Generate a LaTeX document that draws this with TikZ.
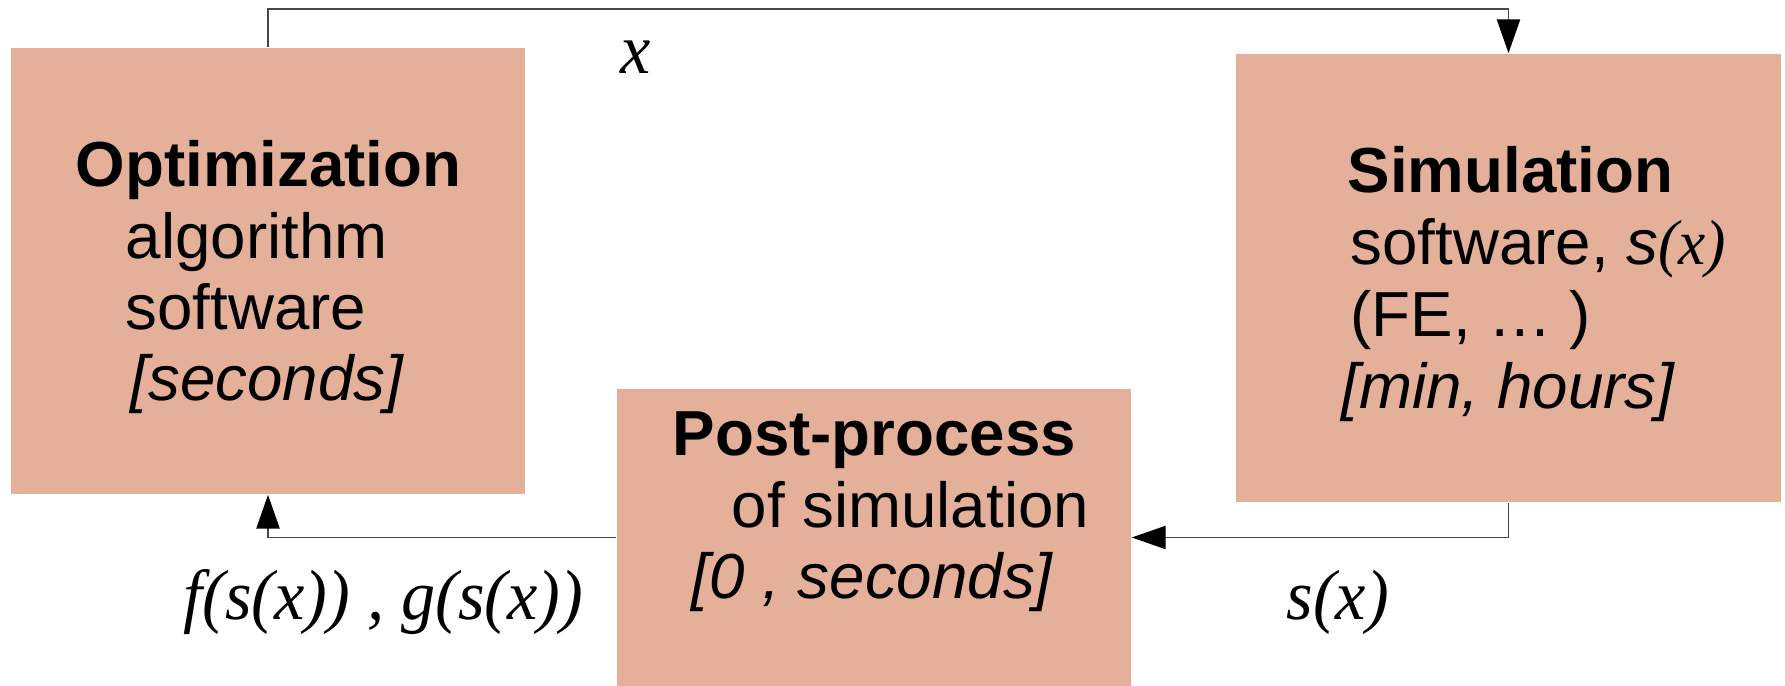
\documentclass[tikz,border=0pt]{standalone}
\usepackage{fontspec}
\setmainfont{Liberation Sans}
\newfontfamily\tms{Liberation Serif}[FakeStretch=0.96]
\usetikzlibrary{arrows.meta}
\definecolor{boxfill}{RGB}{228,176,154}
\definecolor{linec}{RGB}{70,70,70}
\tikzset{
  box/.style={rectangle, fill=boxfill, draw=none, inner sep=0pt},
  txt/.style={anchor=base west, inner sep=0pt, font=\fontsize{18.1}{18.1}\selectfont},
  lbl/.style={anchor=base west, inner sep=0pt, font=\fontsize{20.2}{20.2}\selectfont\tms\itshape},
  conn/.style={draw=linec, line width=0.4pt, -{Triangle[length=9.6pt,width=6.6pt,color=black,fill=black]}}
}
\begin{document}
\begin{tikzpicture}[x=0.01cm,y=-0.01cm]
\useasboundingbox (0,0) rectangle (1785,686);
\node[box, minimum width=5.14cm, minimum height=4.46cm] (opt) at (268,271) {};
\node[box, minimum width=5.45cm, minimum height=4.48cm] (sim) at (1508.5,278) {};
\node[box, minimum width=5.14cm, minimum height=2.97cm] (post) at (874,537.5) {};
% optimization text
\node[txt] (o1) at (75,187) {\bfseries Optimization};
\node[txt] (o2) at (125,259) {algorithm};
\node[txt] (o3) at (125,330) {software};
\node[txt] (o4) at (130,401) {\itshape [seconds]};
% simulation text
\node[txt] (s1) at (1347,193) {\bfseries Simulation};
\node[txt] (s2) at (1350,265) {software, \textit{s}{\tms\itshape(x)}};
\node[txt] (s3) at (1350,337) {(FE, … )};
\node[txt] (s4) at (1341,409) {\itshape [min, hours]};
% post-process text
\node[txt] (p1) at (672,456) {\bfseries Post-process};
\node[txt] (p2) at (731,528) {of simulation};
\node[txt] (p3) at (691,599) {\itshape [0 , seconds]};
% connector labels
\node[lbl] (lx) at (620,74) {x};
\node[lbl] (lfg) at (183,620) {f(s(x)) , g(s(x))};
\node[lbl] (lsx) at (1286,620) {s(x)};
% connectors
\coordinate (top) at (0,9);
\draw[conn] (opt.north) -- (opt.north |- top) -| (sim.north);
\draw[conn] (sim.south) |- (post.east);
\draw[conn] (post.west) -| (opt.south);
\end{tikzpicture}
\end{document}
